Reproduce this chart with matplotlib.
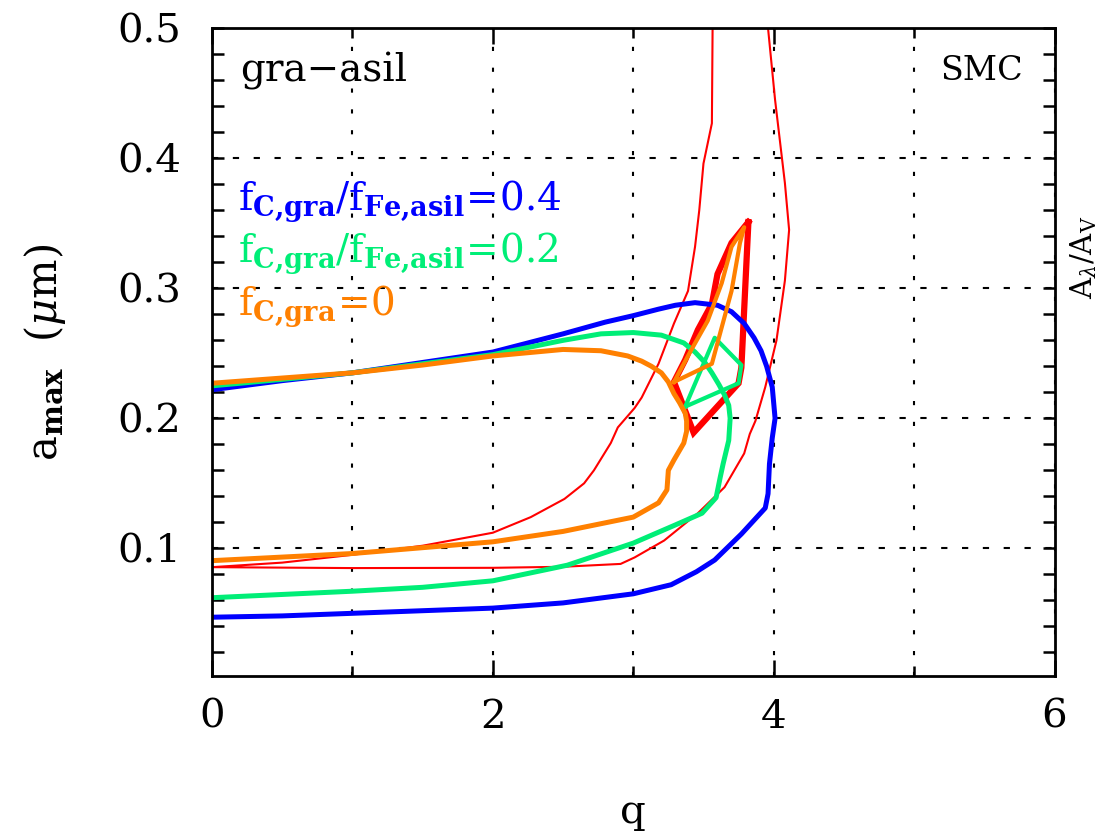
import numpy as np
import matplotlib.pyplot as plt
from matplotlib.ticker import MultipleLocator

plt.rcParams['font.family'] = 'DejaVu Serif'
plt.rcParams['mathtext.fontset'] = 'dejavuserif'

# f_C,gra / f_Fe,asil = 0.4
blue_q = [0, 0.5, 1, 1.5, 2, 2.5, 3, 3.27, 3.45, 3.58, 3.77, 3.94, 3.96, 3.97, 3.99,
          4.01, 3.99, 3.95, 3.91, 3.86, 3.79, 3.70, 3.6, 3.44, 3.3, 3.18, 3.0, 2.8,
          2.5, 2, 1.5, 1, 0.5, 0]
blue_a = [0.047, 0.048, 0.050, 0.052, 0.054, 0.058, 0.065, 0.072, 0.082, 0.091, 0.111,
          0.131, 0.142, 0.165, 0.185, 0.200, 0.224, 0.240, 0.252, 0.262, 0.273, 0.282,
          0.287, 0.289, 0.287, 0.284, 0.279, 0.274, 0.265, 0.251, 0.243, 0.235, 0.229,
          0.222]

# f_C,gra / f_Fe,asil = 0.2
green_q = [0, 1, 1.5, 2, 2.53, 3, 3.3, 3.49, 3.59, 3.62, 3.64, 3.68, 3.69, 3.68, 3.65,
           3.61, 3.56, 3.51, 3.44, 3.36, 3.2, 3.0, 2.77, 2.5, 2, 1.5, 1, 0.5, 0]
green_a = [0.062, 0.067, 0.070, 0.075, 0.087, 0.104, 0.118, 0.127, 0.139, 0.155, 0.165,
           0.183, 0.200, 0.210, 0.218, 0.226, 0.235, 0.243, 0.251, 0.258, 0.264, 0.266,
           0.265, 0.260, 0.249, 0.242, 0.235, 0.230, 0.225]
green_loop_q = [3.37, 3.58, 3.77, 3.75, 3.37]
green_loop_a = [0.209, 0.262, 0.241, 0.227, 0.209]

# f_C,gra = 0
orange_q = [0, 1, 2, 2.5, 3, 3.18, 3.24, 3.25, 3.29, 3.36, 3.38, 3.38, 3.37, 3.33, 3.29,
            3.25, 3.2, 3.13, 3.06, 2.96, 2.77, 2.5, 2, 1.5, 1, 0.5, 0]
orange_a = [0.0905, 0.096, 0.105, 0.113, 0.124, 0.135, 0.145, 0.160, 0.168, 0.181, 0.190,
            0.198, 0.204, 0.212, 0.219, 0.228, 0.235, 0.240, 0.244, 0.248, 0.252, 0.253,
            0.248, 0.241, 0.235, 0.231, 0.227]
orange_loop_q = [3.29, 3.41, 3.53, 3.63, 3.70, 3.79, 3.76, 3.70, 3.63, 3.56, 3.29]
orange_loop_a = [0.228, 0.252, 0.275, 0.304, 0.332, 0.347, 0.335, 0.298, 0.270, 0.242, 0.228]

# A_lambda/A_V contours (red)
red_q = [3.565, 3.56, 3.5, 3.47, 3.44, 3.39, 3.29, 3.18, 3.06, 3.01, 2.89, 2.84, 2.72,
         2.65, 2.51, 2.27, 2, 1.5, 1, 0.5, 0,
         1, 2, 2.5, 2.91, 3.01, 3.22, 3.46, 3.65, 3.79, 3.83, 3.87, 3.94, 4.02, 4.08,
         4.11, 4.08, 4.01, 3.96]
red_a = [0.5, 0.427, 0.396, 0.36, 0.332, 0.298, 0.273, 0.242, 0.216, 0.208, 0.193, 0.181,
         0.160, 0.150, 0.138, 0.124, 0.112, 0.102, 0.095, 0.089, 0.0855,
         0.0848, 0.085, 0.0858, 0.088, 0.093, 0.106, 0.127, 0.147, 0.173, 0.188, 0.198,
         0.224, 0.260, 0.306, 0.345, 0.381, 0.445, 0.5]
red_loop_q = [3.82, 3.70, 3.60, 3.56, 3.46, 3.37, 3.29, 3.43, 3.75, 3.77, 3.82]
red_loop_a = [0.351, 0.335, 0.311, 0.288, 0.268, 0.245, 0.228, 0.189, 0.227, 0.239, 0.351]

BLUE = '#0000ff'
GREEN = '#00ee77'
ORANGE = '#ff8000'
RED = '#ff0000'

fig = plt.figure(figsize=(11.1, 8.35), dpi=100)
ax = fig.add_axes([0.191, 0.190, 0.759, 0.776])

ax.plot(red_q, red_a, color=RED, lw=1.5)
ax.plot(red_loop_q, red_loop_a, color=RED, lw=4.5, solid_joinstyle='miter')
ax.plot(blue_q, blue_a, color=BLUE, lw=3.6)
ax.plot(green_q, green_a, color=GREEN, lw=3.6)
ax.plot(green_loop_q, green_loop_a, color=GREEN, lw=3.0)
ax.plot(orange_q, orange_a, color=ORANGE, lw=3.6)
ax.plot(orange_loop_q, orange_loop_a, color=ORANGE, lw=3.0)

ax.set_xlim(0, 6)
ax.set_ylim(0.0015, 0.5)
ax.xaxis.set_major_locator(MultipleLocator(2))
ax.xaxis.set_minor_locator(MultipleLocator(1))
ax.yaxis.set_minor_locator(MultipleLocator(0.02))
ax.set_yticks([0.1, 0.2, 0.3, 0.4, 0.5])
ax.set_yticklabels(['0.1', '0.2', '0.3', '0.4', '0.5'])

ax.grid(axis='x', which='both', color='black', lw=1.5, linestyle=(0, (2, 8)))
ax.grid(axis='y', which='major', color='black', lw=1.5, linestyle=(0, (3, 7)))

ax.tick_params(which='both', direction='in', top=True, right=True, width=1.8,
               labelsize=29)
ax.tick_params(axis='x', which='major', length=11.5, pad=16)
ax.tick_params(axis='x', which='minor', length=7)
ax.tick_params(axis='y', which='both', length=8.5, pad=22)
for sp in ax.spines.values():
    sp.set_linewidth(2)

ax.set_xlabel('q', fontsize=29, labelpad=42)
ax.set_ylabel(r'$\mathrm{a}_{\mathbf{max}}\ \ (\mu\mathrm{m})$', fontsize=30, labelpad=36)

ax.text(0.033, 0.935, 'gra\u2212asil', transform=ax.transAxes, fontsize=28,
        va='center', ha='left')
ax.text(0.962, 0.935, 'SMC', transform=ax.transAxes, fontsize=24,
        va='center', ha='right')

ax.text(0.031, 0.719,
        r'$\mathrm{f}_{\mathbf{C{,}gra}}/\mathrm{f}_{\mathbf{Fe{,}asil}}\!=\!0.4$',
        transform=ax.transAxes, fontsize=28, color=BLUE, va='baseline')
ax.text(0.031, 0.639,
        r'$\mathrm{f}_{\mathbf{C{,}gra}}/\mathrm{f}_{\mathbf{Fe{,}asil}}\!=\!0.2$',
        transform=ax.transAxes, fontsize=28, color=GREEN, va='baseline')
ax.text(0.031, 0.557, r'$\mathrm{f}_{\mathbf{C{,}gra}}\!=\!0$',
        transform=ax.transAxes, fontsize=28, color=ORANGE, va='baseline')

fig.text(0.976, 0.692, r'$\mathrm{A}_{\lambda}/\mathrm{A}_{\mathrm{V}}$', rotation=90,
         fontsize=21, ha='center', va='center')

fig.savefig('out.png', dpi=100)
